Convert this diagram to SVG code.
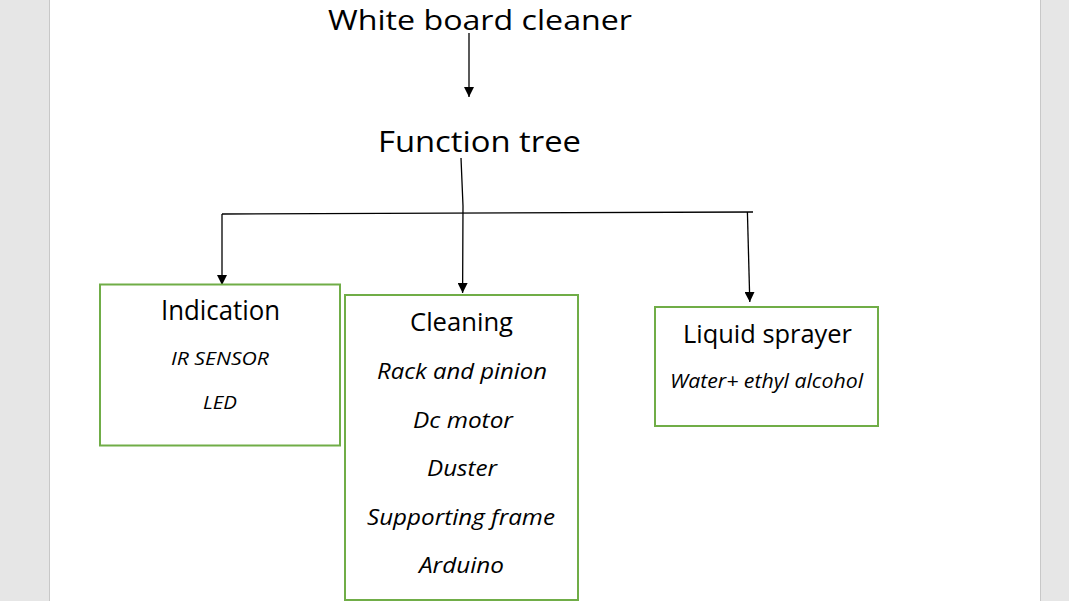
<svg xmlns="http://www.w3.org/2000/svg" width="1069" height="601" viewBox="0 0 1069 601">
  <defs>
    <marker id="arrow" viewBox="0 0 10 10" refX="10" refY="5" markerWidth="10" markerHeight="10" markerUnits="userSpaceOnUse" orient="auto">
      <path d="M0,0 L10,5 L0,10 Z" fill="#000"/>
    </marker>
    <style>
      .box { fill: #ffffff; stroke: #70ad47; stroke-width: 2; }
      .t { font-family: "Open Sans", "Noto Sans", sans-serif; fill: #000; text-anchor: start; }
      .it { font-style: italic; }
      .conn { stroke: #000; stroke-width: 1.3; fill: none; }
    </style>
  </defs>
  <rect x="0" y="0" width="1069" height="601" fill="#e6e6e6"/>
  <rect x="49.5" y="-1" width="991" height="603" fill="#ffffff" stroke="#c8c8c8" stroke-width="1"/>

  <g id="title">
    <text class="t" x="328" y="29.5" font-size="28" textLength="304" lengthAdjust="spacingAndGlyphs">White board cleaner</text>
  </g>
  <g id="function-tree">
    <text class="t" x="378" y="152" font-size="30" textLength="203" lengthAdjust="spacingAndGlyphs">Function tree</text>
  </g>

  <g id="connectors">
    <line class="conn" x1="469" y1="33" x2="469" y2="97" marker-end="url(#arrow)"/>
    <polyline class="conn" points="461,158 463,206 462.6,293" marker-end="url(#arrow)"/>
    <line class="conn" x1="222" y1="214" x2="753" y2="212"/>
    <line class="conn" x1="222" y1="214" x2="222" y2="285" marker-end="url(#arrow)"/>
    <line class="conn" x1="747.4" y1="212" x2="749.8" y2="302" marker-end="url(#arrow)"/>
  </g>

  <g id="indication">
    <rect class="box" x="100" y="284.5" width="240" height="161"/>
    <text class="t" x="161" y="320" font-size="27" textLength="119" lengthAdjust="spacingAndGlyphs">Indication</text>
    <text class="t it" x="171" y="365" font-size="19" textLength="98" lengthAdjust="spacingAndGlyphs">IR SENSOR</text>
    <text class="t it" x="203" y="409" font-size="19" textLength="34" lengthAdjust="spacingAndGlyphs">LED</text>
  </g>

  <g id="cleaning">
    <rect class="box" x="345" y="295" width="233" height="305"/>
    <text class="t" x="410" y="331" font-size="26" textLength="103" lengthAdjust="spacingAndGlyphs">Cleaning</text>
    <text class="t it" x="377" y="379" font-size="22" textLength="170" lengthAdjust="spacingAndGlyphs">Rack and pinion</text>
    <text class="t it" x="413" y="428" font-size="22" textLength="100" lengthAdjust="spacingAndGlyphs">Dc motor</text>
    <text class="t it" x="427" y="476" font-size="22" textLength="70" lengthAdjust="spacingAndGlyphs">Duster</text>
    <text class="t it" x="367" y="525" font-size="22" textLength="188" lengthAdjust="spacingAndGlyphs">Supporting frame</text>
    <text class="t it" x="419" y="573" font-size="22" textLength="85" lengthAdjust="spacingAndGlyphs">Arduino</text>
  </g>

  <g id="liquid-sprayer">
    <rect class="box" x="655" y="307" width="223" height="119"/>
    <text class="t" x="683" y="343" font-size="25" textLength="169" lengthAdjust="spacingAndGlyphs">Liquid sprayer</text>
    <text class="t it" x="670" y="388" font-size="20" textLength="193" lengthAdjust="spacingAndGlyphs">Water+ ethyl alcohol</text>
  </g>
</svg>
